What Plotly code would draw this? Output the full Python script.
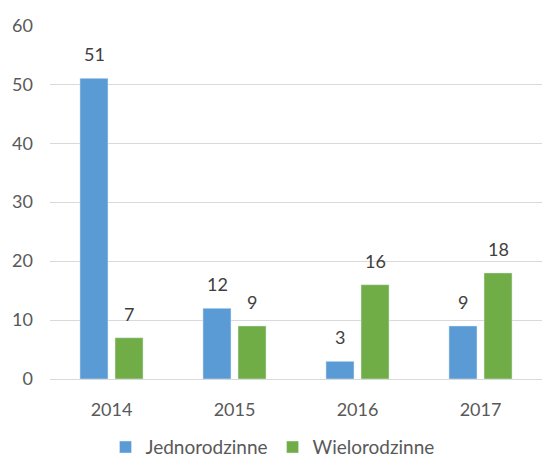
import plotly.graph_objects as go

years = ["2014", "2015", "2016", "2017"]
jednorodzinne = [51, 12, 3, 9]
wielorodzinne = [7, 9, 16, 18]

font = "Lato, Carlito, Calibri, sans-serif"

fig = go.Figure()
fig.add_trace(go.Bar(name="Jednorodzinne", x=years, y=jednorodzinne,
                     marker=dict(color="#5B9BD5")))
fig.add_trace(go.Bar(name="Wielorodzinne", x=years, y=wielorodzinne,
                     marker=dict(color="#70AD47")))

annotations = []
for vals, shift in ((jednorodzinne, -17.5), (wielorodzinne, 17.5)):
    for i, v in enumerate(vals):
        annotations.append(dict(x=i, y=v, xref="x", yref="y", text=str(v),
                                showarrow=False, xshift=shift, yshift=11,
                                yanchor="bottom", xanchor="center",
                                font=dict(size=18, color="#404040", family=font)))

fig.update_layout(
    width=545, height=461,
    margin=dict(l=50, r=3, t=25, b=82, autoexpand=False),
    plot_bgcolor="white", paper_bgcolor="white",
    barmode="group", bargap=0.43, bargroupgap=0.2,
    font=dict(family=font, size=18, color="#595959"),
    showlegend=True,
    legend=dict(orientation="h", x=0.5, xref="container", xanchor="center",
                y=0.03, yref="container", yanchor="middle",
                font=dict(size=19, color="#595959"),
                traceorder="normal"),
    yaxis=dict(range=[0, 60.05], dtick=10, showgrid=True, gridcolor="#D9D9D9",
               gridwidth=1, zeroline=False, showline=False, automargin=False,
               ticks="", ticklabelstandoff=16,
               tickfont=dict(size=18, color="#595959")),
    xaxis=dict(type="category", range=[-0.5, 3.5], showline=True,
               linecolor="#D9D9D9", linewidth=1,
               ticks="", automargin=False, ticklabelstandoff=14,
               tickfont=dict(size=18, color="#595959")),
    annotations=annotations,
)
fig.write_html("out.html", config={"displayModeBar": False},
               post_script="document.body.style.margin='0';")
